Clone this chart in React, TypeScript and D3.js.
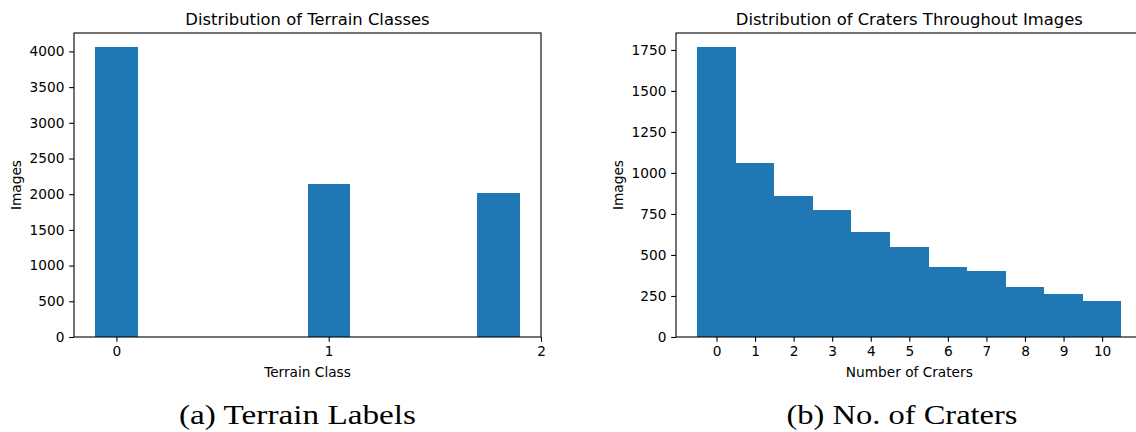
import React, { useRef, useEffect } from "react";
import * as d3 from "d3";

// terrain classes (hist with align='left', 10 bins over [0, 2])
const terrainTicks = [0, 1, 2];
const terrainBinLeft = [0, 1.0, 1.8];
const terrainBinWidth = 0.2;
const terrainCounts = [4055, 2145, 2015];
const terrainYTicks = [0, 500, 1000, 1500, 2000, 2500, 3000, 3500, 4000];

// craters per image (bins centred on integers)
const craterTicks = [0, 1, 2, 3, 4, 5, 6, 7, 8, 9, 10];
const craterCounts = [1765, 1059, 857, 776, 641, 551, 427, 402, 302, 261, 218];
const craterYTicks = [0, 250, 500, 750, 1000, 1250, 1500, 1750];

const BLUE = "#1f77b4";
const FONT = "DejaVu Sans, sans-serif";

function drawHist(svg, opts) {
  const { bins, xTicks, yTicks, x0, x1, title, xLabel, yLabel } = opts;
  const top = 33;
  const bottom = 337;
  const tick = 4.8;

  const xMin = d3.min(bins, d => d.a);
  const xMax = d3.max(bins, d => d.b);
  const pad = (xMax - xMin) * 0.05;
  const x = d3.scaleLinear().domain([xMin - pad, xMax + pad]).range([x0, x1]);
  const yMax = d3.max(bins, d => d.count) * 1.05;
  const y = d3.scaleLinear().domain([0, yMax]).range([bottom, top]);

  const g = svg.append("g");

  g.selectAll("rect.bar")
    .data(bins)
    .join("rect")
    .attr("class", "bar")
    .attr("x", d => x(d.a))
    .attr("width", d => x(d.b) - x(d.a))
    .attr("y", d => y(d.count))
    .attr("height", d => bottom - y(d.count))
    .attr("fill", BLUE)
    .attr("shape-rendering", "crispEdges");

  // spines
  g.append("rect")
    .attr("x", x0)
    .attr("y", top)
    .attr("width", x1 - x0)
    .attr("height", bottom - top)
    .attr("fill", "none")
    .attr("stroke", "black")
    .attr("stroke-width", 1.1);

  const xAxis = g.append("g")
    .attr("transform", `translate(0,${bottom})`)
    .call(d3.axisBottom(x).tickValues(xTicks).tickFormat(d3.format("d")).tickSize(tick).tickPadding(4.8));
  const yAxis = g.append("g")
    .attr("transform", `translate(${x0},0)`)
    .call(d3.axisLeft(y).tickValues(yTicks).tickFormat(d3.format("d")).tickSize(tick).tickPadding(4.8));

  [xAxis, yAxis].forEach(a => {
    a.select(".domain").remove();
    a.attr("font-family", FONT).attr("font-size", 13.7);
    a.selectAll("line").attr("stroke", "black").attr("stroke-width", 1.1);
    a.selectAll("text").attr("fill", "black");
  });

  const cx = (x0 + x1) / 2;
  g.append("text")
    .attr("x", cx)
    .attr("y", 24.7)
    .attr("text-anchor", "middle")
    .attr("font-family", FONT)
    .attr("font-size", 16.4)
    .text(title);

  g.append("text")
    .attr("x", cx)
    .attr("y", 377)
    .attr("text-anchor", "middle")
    .attr("font-family", FONT)
    .attr("font-size", 13.7)
    .text(xLabel);

  // y label sits left of the widest tick label
  const maxW = d3.max(yAxis.selectAll("text").nodes(), n => n.getComputedTextLength());
  const lx = x0 - tick - 4.8 - maxW - 5.5 - 3.2;
  g.append("text")
    .attr("transform", `translate(${lx},${(top + bottom) / 2}) rotate(-90)`)
    .attr("text-anchor", "middle")
    .attr("font-family", FONT)
    .attr("font-size", 13.7)
    .text(yLabel);
}

export default function App() {
  const svgRef = useRef(null);

  useEffect(() => {
    document.body.style.margin = "0";
    const svg = d3.select(svgRef.current);
    svg.selectAll("*").remove();

    drawHist(svg, {
      bins: terrainCounts.map((c, i) => ({
        a: terrainBinLeft[i] - terrainBinWidth / 2,
        b: terrainBinLeft[i] + terrainBinWidth / 2,
        count: c,
      })),
      xTicks: terrainTicks,
      yTicks: terrainYTicks,
      x0: 74,
      x1: 541,
      title: "Distribution of Terrain Classes",
      xLabel: "Terrain Class",
      yLabel: "Images",
    });

    drawHist(svg, {
      bins: craterCounts.map((c, i) => ({ a: craterTicks[i] - 0.5, b: craterTicks[i] + 0.5, count: c })),
      xTicks: craterTicks,
      yTicks: craterYTicks,
      x0: 676,
      x1: 1142.6,
      title: "Distribution of Craters Throughout Images",
      xLabel: "Number of Craters",
      yLabel: "Images",
    });

    const captions = [
      { text: "(a) Terrain Labels", x: 297.5, len: 237 },
      { text: "(b) No. of Craters", x: 902, len: 231 },
    ];
    svg.selectAll("text.caption")
      .data(captions)
      .join("text")
      .attr("class", "caption")
      .attr("x", d => d.x)
      .attr("y", 424)
      .attr("text-anchor", "middle")
      .attr("font-family", "Liberation Serif, serif")
      .attr("font-size", 28)
      .attr("textLength", d => d.len)
      .attr("lengthAdjust", "spacingAndGlyphs")
      .text(d => d.text);
  }, []);

  return <svg ref={svgRef} width={1136} height={432} style={{ display: "block", background: "white" }}></svg>;
}
